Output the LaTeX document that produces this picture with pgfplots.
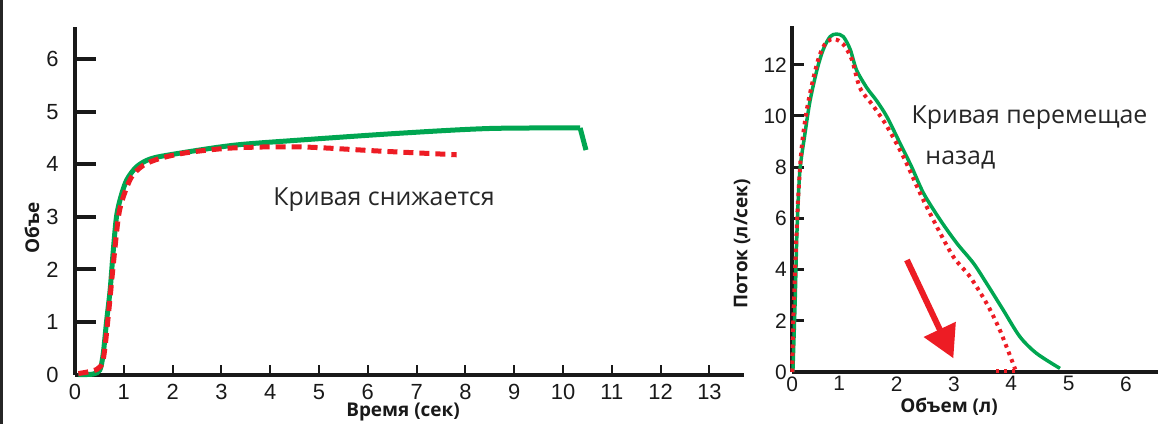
\documentclass[border=0pt]{standalone}
\usepackage{fontspec}
\setmainfont{Liberation Sans}
\newfontfamily\annot{Open Sans}
\newfontfamily\lab{Open Sans}
\usepackage{pgfplots}
\pgfplotsset{compat=1.18}
\usetikzlibrary{arrows.meta}
\definecolor{sgreen}{RGB}{0,166,81}
\definecolor{sred}{RGB}{237,28,36}
\begin{document}
\begin{tikzpicture}
\useasboundingbox (0bp,0bp) rectangle (1171bp,424bp);
\draw[line width=3bp, black!85] (1.5bp,0bp) -- (1.5bp,424bp);
% ---------------- left panel ----------------
\begin{axis}[
  at={(75bp,49.4bp)}, anchor=south west,
  scale only axis, width=668.6bp, height=347.6bp,
  xmin=0, xmax=13.7, ymin=0, ymax=6.61,
  clip=false,
  axis x line*=bottom, axis y line*=left,
  axis line style={line width=4bp, black!90},
  tick align=inside,
  major tick length=19bp, minor tick length=8bp,
  xtick={0,...,13}, ytick={0,...,6},
  minor xtick={1,...,13},
  tick style={draw=black!90, line width=4bp},
  minor tick style={line width=2bp},
  major x tick style={draw=none},
  /pgf/number format/assume math mode=true,
  ticklabel style={font=\fontsize{22}{24}\selectfont, black!90},
  yticklabel style={xshift=-13bp},
  xticklabel style={yshift=-6bp},
  xlabel={Время (сек)}, ylabel={Объе},
  xlabel style={at={(axis description cs:0.4906,-0.1076)}, anchor=center, font=\lab\bfseries\fontsize{19}{21}\selectfont, black!90},
  ylabel style={at={(axis description cs:-0.0643,0.4217)}, anchor=center, rotate=0, font=\lab\bfseries\fontsize{19}{21}\selectfont, black!90},
]
\pgfplotsinvokeforeach{1,...,6}{\draw[black!90, line width=4bp] (axis cs:0,#1) -- ++(21bp,0bp);}
\pgfplotsinvokeforeach{1,...,13}{\draw[black!90, line width=2bp] (axis cs:#1,0) -- ++(0bp,10bp);}
\addplot[sgreen, line width=5bp, smooth, tension=0.5] coordinates {
(0.07,0) (0.37,0.01) (0.51,0.09) (0.58,0.41) (0.65,1.04) (0.72,1.61) (0.78,2.31) (0.85,3.0) (0.94,3.38) (1.06,3.70) (1.26,3.95) (1.54,4.10) (2.01,4.19) (3.24,4.36) (4.61,4.46) (6.66,4.59) (8.5,4.68) (10.35,4.69)};
\addplot[sgreen, line width=5bp] coordinates {(10.35,4.69) (10.47,4.27)};
\addplot[sred, line width=5bp, dash pattern=on 10bp off 6bp, smooth, tension=0.5] coordinates {
(0.07,0.02) (0.45,0.10) (0.58,0.30) (0.68,1.1) (0.78,2.05) (0.89,3.0) (0.99,3.38) (1.16,3.76) (1.40,3.98) (1.74,4.11) (2.29,4.22) (3.24,4.31) (4.61,4.33) (6.25,4.25) (7.82,4.18)};
\node[anchor=west, inner sep=0, font=\annot\fontsize{25}{28}\selectfont, black!85] at (axis cs:4.06,3.32) {Кривая снижается};
\end{axis}
% ---------------- right panel ----------------
\begin{axis}[
  at={(792.3bp,52bp)}, anchor=south west,
  scale only axis, width=365.7bp, height=345.6bp,
  xmin=0.18, xmax=6.56, ymin=0, ymax=13.5,
  clip=false,
  axis x line*=bottom, axis y line*=left,
  axis line style={line width=4bp, black!90},
  tick align=inside,
  major tick length=10bp,
  xtick={0.18,1,2,3,4,5,6}, xticklabels={0,1,2,3,4,5,6},
  ytick={0,2,...,12},
  tick style={draw=black!90, line width=3bp},
  major x tick style={draw=none},
  /pgf/number format/assume math mode=true,
  ticklabel style={font=\fontsize{21}{23}\selectfont, black!90},
  yticklabel style={xshift=-2bp},
  xticklabel style={yshift=-1bp},
  xlabel={Объем (л)}, ylabel={Поток (л/сек)},
  xlabel style={at={(axis description cs:0.4285,-0.1013)}, anchor=center, font=\lab\bfseries\fontsize{19}{21}\selectfont, black!90},
  ylabel style={at={(axis description cs:-0.1375,0.3704)}, anchor=center, font=\lab\bfseries\fontsize{19}{21}\selectfont, black!90},
]
\pgfplotsinvokeforeach{2,4,...,12}{\draw[black!90, line width=3bp] (axis cs:0.18,#1) -- ++(12bp,0bp);}
\addplot[sgreen, line width=3.5bp, smooth, tension=0.5] coordinates {
(0.19,0) (0.23,2.8) (0.26,5.4) (0.31,7.8) (0.40,9.3) (0.49,10.6) (0.61,11.8) (0.72,12.6) (0.84,13.1) (0.95,13.2) (1.07,13.1) (1.19,12.6) (1.30,11.8) (1.48,11.1) (1.65,10.6) (1.83,9.97) (2.06,8.93) (2.26,8.02) (2.47,6.98) (2.76,5.94) (3.05,5.03) (3.34,4.25) (3.57,3.46) (3.86,2.42) (4.15,1.38) (4.44,0.73) (4.85,0.14)};
\addplot[sred, line width=4bp, dash pattern=on 3.5bp off 4.5bp, smooth, tension=0.5] coordinates {
(0.18,0) (0.19,1.5) (0.23,4.1) (0.28,6.7) (0.34,8.7) (0.43,10.2) (0.55,11.5) (0.66,12.4) (0.78,12.9) (0.92,13.0) (1.07,12.8) (1.22,12.2) (1.36,11.1) (1.59,10.4) (1.83,9.6) (2.12,8.4) (2.41,6.98) (2.70,5.68) (2.99,4.5) (3.28,3.72) (3.57,2.68) (3.80,1.64) (4.07,0.1)};
\addplot[sred, line width=4bp, dash pattern=on 3.5bp off 4.5bp] coordinates {(4.07,0.05) (3.72,0.05)};
\draw[sred, line width=6bp, -{Triangle[length=32bp,width=34bp]}] (axis cs:2.18,4.375) -- (axis cs:2.99,0.535);
\node[anchor=west, inner sep=0, font=\annot\fontsize{25}{28}\selectfont, black!85] at (axis cs:2.26,9.92) {Кривая перемещае};
\node[anchor=west, inner sep=0, font=\annot\fontsize{25}{28}\selectfont, black!85] at (axis cs:2.50,8.28) {назад};
\end{axis}
\end{tikzpicture}
\end{document}
